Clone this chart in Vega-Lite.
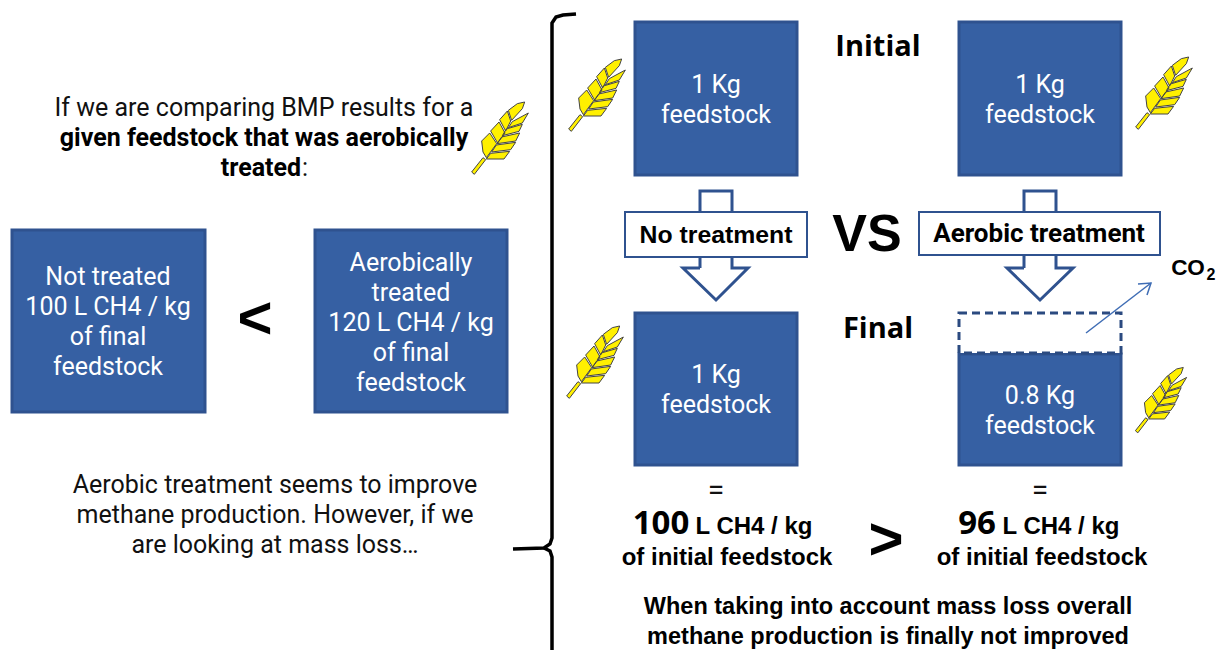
{
"$schema":"https://vega.github.io/schema/vega-lite/v6.json",
"width":1220,"height":650,
"autosize":{"type":"none"},
"padding":0,
"background":"#ffffff",
"view":{"stroke":null},
"config":{"text":{"align":"center","baseline":"middle"}},
"encoding":{
 "x":{"field":"x","type":"quantitative","scale":{"domain":[0,1220],"nice":false,"zero":false},"axis":null},
 "y":{"field":"y","type":"quantitative","scale":{"domain":[650,0],"nice":false,"zero":false},"axis":null}
},
"layer":[
{"data":{"values":[
 {"id":"a1","i":1,"x":700,"y":268},{"id":"a1","i":2,"x":700,"y":191},{"id":"a1","i":3,"x":732,"y":191},{"id":"a1","i":4,"x":732,"y":268},{"id":"a1","i":5,"x":748,"y":268},{"id":"a1","i":6,"x":716,"y":300},{"id":"a1","i":7,"x":683,"y":268},{"id":"a1","i":8,"x":700,"y":268},
 {"id":"a2","i":1,"x":1024,"y":268},{"id":"a2","i":2,"x":1024,"y":191},{"id":"a2","i":3,"x":1056,"y":191},{"id":"a2","i":4,"x":1056,"y":268},{"id":"a2","i":5,"x":1073,"y":268},{"id":"a2","i":6,"x":1040,"y":300},{"id":"a2","i":7,"x":1007,"y":268},{"id":"a2","i":8,"x":1024,"y":268}
 ]},
 "mark":{"type":"line","stroke":"#2F528F","strokeWidth":3,"strokeJoin":"miter"},
 "encoding":{"detail":{"field":"id"},"order":{"field":"i","type":"quantitative"}}},
{"data":{"values":[
 {"x":625,"x2":807,"y":212,"y2":257},{"x":919,"x2":1160,"y":212,"y2":255}]},
 "mark":{"type":"rect","fill":"#ffffff","stroke":"#2F528F","strokeWidth":2},
 "encoding":{"x2":{"field":"x2"},"y2":{"field":"y2"}}},
{"data":{"values":[
 {"x":12,"x2":205,"y":230,"y2":412},{"x":315,"x2":507,"y":230,"y2":412},
 {"x":635,"x2":797,"y":22,"y2":175},{"x":959,"x2":1121,"y":22,"y2":175},
 {"x":635,"x2":797,"y":313,"y2":465},{"x":959,"x2":1121,"y":354,"y2":465}]},
 "mark":{"type":"rect","fill":"#3660A3","stroke":"#2F528F","strokeWidth":3},
 "encoding":{"x2":{"field":"x2"},"y2":{"field":"y2"}}},
{"data":{"values":[{"x":959,"x2":1121,"y":313,"y2":353}]},
 "mark":{"type":"rect","fill":"#ffffff","stroke":"#2B4A80","strokeWidth":3,"strokeDash":[8,5]},
 "encoding":{"x2":{"field":"x2"},"y2":{"field":"y2"}}},
{"data":{"values":[
 {"id":"s","i":1,"x":1086,"y":333},{"id":"s","i":2,"x":1151,"y":283},
 {"id":"h","i":1,"x":1138,"y":284},{"id":"h","i":2,"x":1151,"y":283},{"id":"h","i":3,"x":1147,"y":295}]},
 "mark":{"type":"line","stroke":"#3F6DB5","strokeWidth":1.5},
 "encoding":{"detail":{"field":"id"},"order":{"field":"i","type":"quantitative"}}},
{"data":{"values":[
 {"id":"t","i":1,"x":576,"y":14},{"id":"t","i":2,"x":563,"y":15},{"id":"t","i":3,"x":556,"y":17},{"id":"t","i":4,"x":552,"y":23},{"id":"t","i":5,"x":552,"y":538},{"id":"t","i":6,"x":550,"y":544},{"id":"t","i":7,"x":544,"y":548},{"id":"t","i":8,"x":513,"y":549},
 {"id":"b","i":1,"x":544,"y":548},{"id":"b","i":2,"x":550,"y":551},{"id":"b","i":3,"x":552,"y":557},{"id":"b","i":4,"x":552,"y":650}]},
 "mark":{"type":"line","stroke":"#000000","strokeWidth":3.5},
 "encoding":{"detail":{"field":"id"},"order":{"field":"i","type":"quantitative"}}},
{"data":{"values":[{"x":597,"y":95},{"x":500,"y":138},{"x":1164,"y":93},{"x":595,"y":362}]},
 "mark":{"type":"point","filled":true,"opacity":1,"fill":"#FFF000","stroke":"#444444","strokeWidth":1,"size":4900,
 "shape":"M-.81 .971L-.486 .562L-.41 .619L-.733 1.038ZM-.524 .086L-.295 -.143L-.095 .162L-.39 .562L-.486 .4ZM-.267 -.2L-.029 -.457L.143 -.143L-.067 .143ZM-.01 -.524L.21 -.771L.305 -.486L.162 -.2ZM.238 -.79L.495 -.981L.705 -1.029L.638 -.838L.333 -.505ZM.352 -.467L.81 -.714L.638 -.429L.238 -.295ZM.181 -.257L.638 -.39L.543 -.19L.067 -.067ZM.048 -.029L.562 -.143L.448 .086L-.086 .162ZM-.105 .2L.448 .124L.305 .333L-.238 .4ZM-.267 .438L.276 .381L.114 .6L-.39 .6Z"}},
{"data":{"values":[{"x":1161,"y":400}]},
 "mark":{"type":"point","filled":true,"opacity":1,"fill":"#FFF000","stroke":"#444444","strokeWidth":1,"size":4000,
 "shape":"M-.81 .971L-.486 .562L-.41 .619L-.733 1.038ZM-.524 .086L-.295 -.143L-.095 .162L-.39 .562L-.486 .4ZM-.267 -.2L-.029 -.457L.143 -.143L-.067 .143ZM-.01 -.524L.21 -.771L.305 -.486L.162 -.2ZM.238 -.79L.495 -.981L.705 -1.029L.638 -.838L.333 -.505ZM.352 -.467L.81 -.714L.638 -.429L.238 -.295ZM.181 -.257L.638 -.39L.543 -.19L.067 -.067ZM.048 -.029L.562 -.143L.448 .086L-.086 .162ZM-.105 .2L.448 .124L.305 .333L-.238 .4ZM-.267 .438L.276 .381L.114 .6L-.39 .6Z"}},
{"data":{"values":[
 {"x":264,"y":107,"t":"If we are comparing BMP results for a"},
 {"x":305,"y":167,"t":":"},
 {"x":275,"y":484,"t":"Aerobic treatment seems to improve"},
 {"x":275,"y":514,"t":"methane production. However, if we"},
 {"x":275,"y":544,"t":"are looking at mass loss…"}]},
 "mark":{"type":"text","font":"Roboto","fontSize":25,"dy":0.5,"fill":"#111111"},
 "encoding":{"text":{"field":"t"}}},
{"data":{"values":[{"x":716,"y":491,"t":"="},{"x":1040,"y":491,"t":"="}]},
 "mark":{"type":"text","font":"Roboto","fontSize":30,"fill":"#111111"},
 "encoding":{"text":{"field":"t"}}},
{"data":{"values":[
 {"x":108,"y":276,"t":"Not treated"},{"x":108,"y":306,"t":"100 L CH4 / kg"},{"x":108,"y":336,"t":"of final"},{"x":108,"y":366,"t":"feedstock"},
 {"x":411,"y":262,"t":"Aerobically"},{"x":411,"y":292,"t":"treated"},{"x":411,"y":322,"t":"120 L CH4 / kg"},{"x":411,"y":352,"t":"of final"},{"x":411,"y":382,"t":"feedstock"},
 {"x":716,"y":84,"t":"1 Kg"},{"x":716,"y":114,"t":"feedstock"},
 {"x":1040,"y":84,"t":"1 Kg"},{"x":1040,"y":114,"t":"feedstock"},
 {"x":716,"y":374,"t":"1 Kg"},{"x":716,"y":404,"t":"feedstock"},
 {"x":1040,"y":395,"t":"0.8 Kg"},{"x":1040,"y":425,"t":"feedstock"}]},
 "mark":{"type":"text","font":"Roboto","fontSize":25,"dy":0.5,"fill":"#ffffff"},
 "encoding":{"text":{"field":"t"}}},
{"data":{"values":[
 {"x":264,"y":137,"t":"given feedstock that was aerobically"},
 {"x":261,"y":167,"t":"treated"}]},
 "mark":{"type":"text","font":"Roboto","fontWeight":"bold","fontSize":25,"dy":0.5,"fill":"#000000"},
 "encoding":{"text":{"field":"t"}}},
{"data":{"values":[
 {"x":1039,"y":233,"t":"Aerobic treatment"}]},
 "mark":{"type":"text","font":"Roboto","fontWeight":"bold","fontSize":26,"dy":1,"fill":"#000000"},
 "encoding":{"text":{"field":"t"}}},
{"data":{"values":[
 {"x":716,"y":235,"t":"No treatment"}]},
 "mark":{"type":"text","font":"Liberation Sans","fontWeight":"bold","fontSize":24.8,"dy":1,"fill":"#000000"},
 "encoding":{"text":{"field":"t"}}},
{"data":{"values":[
 {"x":888,"y":606,"t":"When taking into account mass loss overall"},
 {"x":888,"y":636,"t":"methane production is finally not improved"}]},
 "mark":{"type":"text","font":"Liberation Sans","fontWeight":"bold","fontSize":23.5,"dy":1,"fill":"#000000"},
 "encoding":{"text":{"field":"t"}}},
{"data":{"values":[
 {"x":754,"y":526,"t":"L CH4 / kg"},{"x":1061,"y":526,"t":"L CH4 / kg"},
 {"x":727,"y":557,"t":"of initial feedstock"},{"x":1042,"y":557,"t":"of initial feedstock"}]},
 "mark":{"type":"text","font":"Liberation Sans","fontWeight":"bold","fontSize":24,"dy":0.5,"fill":"#000000"},
 "encoding":{"text":{"field":"t"}}},
{"data":{"values":[{"x":878,"y":45,"t":"Initial"},{"x":878,"y":327,"t":"Final"}]},
 "mark":{"type":"text","font":"Open Sans","fontWeight":"bold","fontSize":29,"dy":1.5,"fill":"#000000"},
 "encoding":{"text":{"field":"t"}}},
{"data":{"values":[{"x":661,"y":523,"t":"100"},{"x":977,"y":523,"t":"96"}]},
 "mark":{"type":"text","font":"Open Sans","fontWeight":"bold","fontSize":33,"dy":1,"fill":"#000000"},
 "encoding":{"text":{"field":"t"}}},
{"data":{"values":[{"x":867,"y":235,"t":"VS"}]},
 "mark":{"type":"text","font":"Liberation Sans","fontWeight":"bold","fontSize":52,"fill":"#000000"},
 "encoding":{"text":{"field":"t"}}},
{"data":{"values":[{"x":255,"y":320,"t":"<"},{"x":886,"y":541,"t":">"}]},
 "mark":{"type":"text","font":"Liberation Sans","fontWeight":"bold","fontSize":60,"fill":"#000000"},
 "encoding":{"text":{"field":"t"}}},
{"data":{"values":[{"x":1188,"y":268,"t":"CO"}]},
 "mark":{"type":"text","font":"Liberation Sans","fontWeight":"bold","fontSize":22.5,"fill":"#000000"},
 "encoding":{"text":{"field":"t"}}},
{"data":{"values":[{"x":1211,"y":275,"t":"2"}]},
 "mark":{"type":"text","font":"Liberation Sans","fontWeight":"bold","fontSize":16,"fill":"#000000"},
 "encoding":{"text":{"field":"t"}}}
]
}
